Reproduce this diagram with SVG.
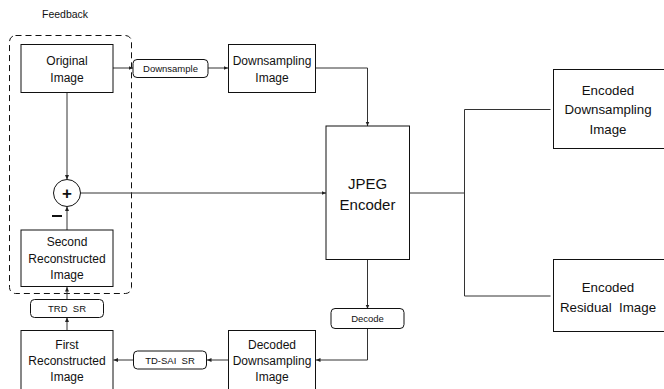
<svg xmlns="http://www.w3.org/2000/svg" width="664" height="389" viewBox="0 0 664 389">
<style>
.box{fill:#fff;stroke:#111;stroke-width:1}
.pill{fill:#fff;stroke:#111;stroke-width:1}
.t{font-family:"Liberation Sans",Arial,sans-serif;font-size:12px;fill:#111;text-anchor:middle}
.s{font-family:"Liberation Sans",Arial,sans-serif;font-size:9.5px;fill:#111;text-anchor:middle;white-space:pre}
.c{fill:none;stroke:#333;stroke-width:1}
</style>
<defs>
<marker id="ah" markerWidth="5" markerHeight="5" refX="4.5" refY="2.5" orient="auto" markerUnits="userSpaceOnUse">
<path d="M0,0.5 L4.5,2.5 L0,4.5 z" fill="#222"/>
</marker>
</defs>
<text x="42" y="18" style="font-family:'Liberation Sans',Arial,sans-serif;font-size:10.5px;fill:#111">Feedback</text>
<g id="feedback">
<rect x="9.5" y="35.5" width="122" height="258" rx="6" fill="none" stroke="#111" stroke-width="1" stroke-dasharray="6,4"/>
</g>
<g id="connectors">
<line class="c" x1="113" y1="68" x2="133" y2="68" marker-end="url(#ah)"/>
<line class="c" x1="208" y1="68" x2="228" y2="68" marker-end="url(#ah)"/>
<polyline class="c" points="316,68 367.5,68 367.5,126" marker-end="url(#ah)"/>
<line class="c" x1="67" y1="92" x2="67" y2="179.5" marker-end="url(#ah)"/>
<line class="c" x1="80.5" y1="193" x2="326" y2="193" marker-end="url(#ah)"/>
<line class="c" x1="67" y1="230" x2="67" y2="206.5" marker-end="url(#ah)"/>
<line class="c" x1="67" y1="299" x2="67" y2="287" marker-end="url(#ah)"/>
<line class="c" x1="67" y1="330" x2="67" y2="317.5" marker-end="url(#ah)"/>
<line class="c" x1="133" y1="360" x2="113.5" y2="360" marker-end="url(#ah)"/>
<line class="c" x1="228" y1="360" x2="207" y2="360" marker-end="url(#ah)"/>
<line class="c" x1="367.5" y1="259.5" x2="367.5" y2="309" marker-end="url(#ah)"/>
<polyline class="c" points="367.5,328.5 367.5,360 316,360" marker-end="url(#ah)"/>
<line class="c" x1="409.5" y1="193" x2="464.5" y2="193"/>
<polyline class="c" points="550.5,109.5 464.5,109.5 464.5,296 550.5,296"/>
<line x1="52" y1="216" x2="62" y2="216" stroke="#111" stroke-width="2"/>
</g>
<g id="original">
<rect class="box" x="21" y="44.5" width="92" height="48"/>
<text class="t" x="67" y="64.5">Original</text>
<text class="t" x="67" y="81.5">Image</text>
</g>
<g id="downsample">
<rect class="pill" x="133" y="59.5" width="75" height="18" rx="4"/>
<text class="s" x="170.5" y="72">Downsample</text>
</g>
<g id="downsampling">
<rect class="box" x="228.5" y="44.5" width="87" height="48"/>
<text class="t" x="272" y="64.5">Downsampling</text>
<text class="t" x="272" y="81.5">Image</text>
</g>
<g id="jpeg">
<rect class="box" x="326" y="126" width="83.5" height="133.5"/>
<text class="t" x="367.5" y="188.5" style="font-size:15px">JPEG</text>
<text class="t" x="367.5" y="209.5" style="font-size:15px">Encoder</text>
</g>
<g id="plus">
<circle cx="67" cy="193" r="13.5" fill="#fff" stroke="#111" stroke-width="1"/>
<text x="67" y="199" style="font-family:'Liberation Sans',Arial,sans-serif;font-size:17px;font-weight:bold;fill:#111;text-anchor:middle">+</text>
</g>
<g id="second">
<rect class="box" x="21" y="230" width="92" height="56.5"/>
<text class="t" x="67" y="246">Second</text>
<text class="t" x="67" y="262.5">Reconstructed</text>
<text class="t" x="67" y="279">Image</text>
</g>
<g id="trd">
<rect class="pill" x="30.5" y="299.5" width="73" height="18" rx="4"/>
<text class="s" x="67" y="312" xml:space="preserve">TRD  SR</text>
</g>
<g id="first">
<rect class="box" x="21" y="330.5" width="92" height="70"/>
<text class="t" x="67" y="348.5">First</text>
<text class="t" x="67" y="364.5">Reconstructed</text>
<text class="t" x="67" y="381">Image</text>
</g>
<g id="tdsai">
<rect class="pill" x="133.5" y="351" width="73" height="18" rx="4"/>
<text class="s" x="170" y="363.5" xml:space="preserve">TD-SAI  SR</text>
</g>
<g id="decoded">
<rect class="box" x="228.5" y="330.5" width="87" height="70"/>
<text class="t" x="272" y="348.5">Decoded</text>
<text class="t" x="272" y="364.5">Downsampling</text>
<text class="t" x="272" y="381">Image</text>
</g>
<g id="decode">
<rect class="pill" x="331" y="308.5" width="73" height="20" rx="4"/>
<text class="s" x="367.5" y="322">Decode</text>
</g>
<g id="encodedDown">
<rect class="box" x="553.5" y="69.5" width="115" height="79"/>
<text class="t" x="608" y="95" style="font-size:13.3px">Encoded</text>
<text class="t" x="608" y="114" style="font-size:13.3px">Downsampling</text>
<text class="t" x="608" y="134" style="font-size:13.3px">Image</text>
</g>
<g id="encodedRes">
<rect class="box" x="553.5" y="259.5" width="115" height="72"/>
<text class="t" x="608" y="291.5" style="font-size:13.3px">Encoded</text>
<text class="t" x="608" y="311.5" style="font-size:13.3px;white-space:pre" xml:space="preserve">Residual  Image</text>
</g>
</svg>
